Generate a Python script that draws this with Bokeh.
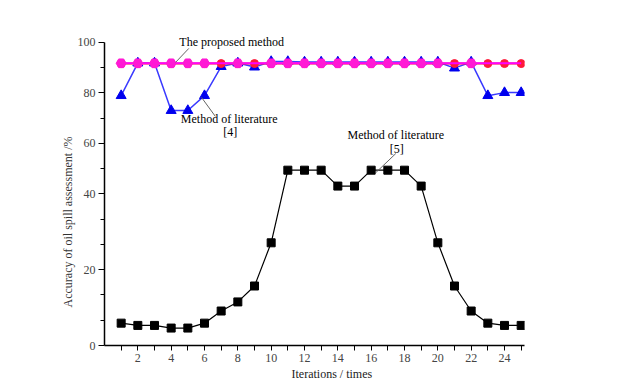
import numpy as np
from bokeh.plotting import figure
from bokeh.models import Range1d, FixedTicker, Label, Title
from bokeh.embed import file_html
from bokeh.resources import INLINE

# ---------------- data ----------------
iterations = list(range(1, 26))
lit5 = [5.9, 5.3, 5.3, 4.6, 4.6, 5.9, 9.1, 11.5, 15.7, 27.1, 49.4, 49.4, 49.4,
        43.1, 43.1, 49.4, 49.4, 49.4, 43.1, 27.1, 15.7, 9.1, 5.9, 5.3, 5.3]
lit4 = [78.9, 91.8, 91.8, 73.0, 73.0, 78.9, 90.4, 91.8, 90.2, 92.4, 92.4, 92.2, 92.2,
        92.2, 92.2, 92.2, 92.2, 92.2, 92.2, 92.2, 89.8, 92.2, 78.9, 80.1, 80.1]
red_series = [91.6] * 25
proposed = [91.7] * 25
proposed_marker_x = [1, 2, 3, 4, 5, 6, 8, 10, 11, 12, 13, 14, 15, 16, 17, 18, 19, 20, 22]

y_tick_values = [0, 20, 40, 60, 80, 100]
y_tick_labels = ["0", "20", "40", "60", "80", "100"]
x_tick_values = list(range(2, 25, 2))
x_minor_values = list(range(1, 26, 2))

# The original axis is drawn with unequal spacing between its labels:
# map each value onto the displayed tick scale.
disp_pos = [0, 3, 6, 8, 10, 12]
def to_disp(vals):
    return list(np.interp(vals, y_tick_values, disp_pos))

FONT = "Liberation Serif"

p = figure(width=642, height=382, output_backend="svg", toolbar_location=None,
           x_range=Range1d(0, 25.2), y_range=Range1d(0, 12.35),
           min_border_left=104, min_border_right=118, min_border_top=33, min_border_bottom=37)
p.outline_line_color = None
p.xgrid.grid_line_color = None
p.ygrid.grid_line_color = None
p.background_fill_color = "white"
p.border_fill_color = "white"

# axes
p.xaxis.ticker = FixedTicker(ticks=x_tick_values, minor_ticks=x_minor_values)
p.xaxis.major_tick_out = 5
p.xaxis.major_tick_in = 0
p.xaxis.minor_tick_out = 5
p.xaxis.minor_tick_in = 0
p.xaxis.axis_line_width = 1.5
p.xaxis.major_label_text_font = FONT
p.xaxis.major_label_text_font_size = "12px"
p.xaxis.major_label_standoff = 3

p.yaxis.ticker = FixedTicker(ticks=to_disp(y_tick_values),
                             minor_ticks=[1, 2, 4, 5, 7, 9, 11])
p.yaxis.major_label_overrides = {float(d): lab for d, lab in zip(to_disp(y_tick_values), y_tick_labels)}
p.yaxis.bounds = (0, 12)
p.yaxis.major_tick_out = 6
p.yaxis.major_tick_in = 0
p.yaxis.minor_tick_out = 4
p.yaxis.minor_tick_in = 0
p.yaxis.axis_line_width = 1.5
p.yaxis.major_label_text_font = FONT
p.yaxis.major_label_text_font_size = "12px"
p.yaxis.major_label_standoff = 3

# axis titles (offset along the frame to match the original placement)
p.add_layout(Title(text="Iterations / times", align="left", offset=187, standoff=0,
                   text_font=FONT, text_font_size="12px", text_font_style="normal",
                   text_color="#222222"), "below")
p.add_layout(Title(text="Accuracy of oil spill assessment /%", align="left", offset=38,
                   standoff=0, text_font=FONT, text_font_size="12px",
                   text_font_style="normal", text_color="#333333"), "left")

# series
p.line(iterations, to_disp(lit4), line_color="#3a3aff", line_width=1.5)
p.scatter(iterations, to_disp(lit4), marker="triangle", size=10,
          fill_color="#0000ee", line_color="#0000ee")

p.line(iterations, to_disp(red_series), line_color="#ff2020", line_width=2)
p.scatter(iterations, to_disp(red_series), marker="circle", size=8,
          fill_color="#ff1a3a", line_color="#ff1a3a")

p.line(iterations, to_disp(proposed), line_color="#ff00ff", line_width=2)
prop_marker_y = [proposed[i - 1] for i in proposed_marker_x]
p.scatter(proposed_marker_x, to_disp(prop_marker_y), marker="hex", size=10,
          fill_color="#ff19d5", line_color="#ff19d5")

p.line(iterations, to_disp(lit5), line_color="black", line_width=1.2)
p.scatter(iterations, to_disp(lit5), marker="square", size=8,
          fill_color="black", line_color="black")

# leader lines
p.segment(x0=[5.06, 5.82, 17.48], y0=[11.76, 9.82, 7.60],
          x1=[4.27, 6.65, 16.29], y1=[11.21, 9.07, 6.85],
          line_color="#666666", line_width=1)

def add_text(x, y, t):
    p.add_layout(Label(x=x, y=y, text=t, text_font=FONT, text_font_size="12px",
                       text_align="center", text_baseline="middle", text_color="black"))

add_text(7.63, 12.02, "The proposed method")
add_text(7.48, 8.95, "Method of literature")
add_text(7.54, 8.47, "[4]")
add_text(17.48, 8.32, "Method of literature")
add_text(17.54, 7.78, "[5]")

open("out.html", "w").write(file_html(p, INLINE))
